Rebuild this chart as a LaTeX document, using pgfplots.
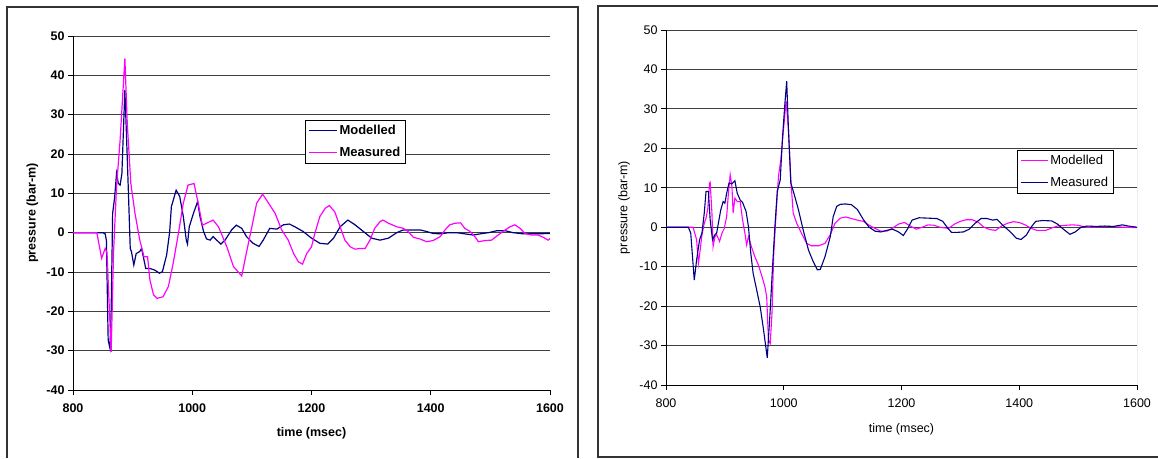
\documentclass[border=0pt]{standalone}
\usepackage{pgfplots}
\pgfplotsset{compat=1.18}
\usepackage{fontspec}
\setmainfont{Liberation Sans}
\definecolor{navy}{RGB}{0,0,128}
\definecolor{mag}{RGB}{255,0,255}
\pgfplotsset{
  common/.style={
    scale only axis, xmin=800, xmax=1600, ymin=-40, ymax=50,
    xtick={800,1000,...,1600}, ytick={-40,-30,...,50},
    axis lines*=left, axis line style={-, black, line width=0.9pt},
    tick align=outside, major tick length=5pt,
    tick style={black, line width=0.8pt},
    ymajorgrids, grid style={black!75, line width=0.8pt},
    /pgf/number format/assume math mode=true,
    /pgf/number format/1000 sep={},
    xticklabel style={yshift=-5pt},
    legend cell align=left,
  },
}
\begin{document}
\begin{tikzpicture}[x=1pt,y=1pt]
\useasboundingbox (0,0) rectangle (1158,458);
\draw[line width=1.6pt, black!80] (7,0) -- (7,451) -- (578,451) -- (578,0);
\draw[line width=1.6pt, black!80] (1158,452) -- (598,452) -- (598,0.8) -- (1158,0.8);

\begin{axis}[common,
  at={(73pt,68pt)}, anchor=south west, width=477pt, height=354pt,
  ticklabel style={font=\bfseries\fontsize{12.5}{12.5}\selectfont},
  xlabel={time (msec)}, ylabel={pressure (bar-m)},
  label style={font=\bfseries\fontsize{12.5}{13}\selectfont},
  xlabel style={at={(axis description cs:0.5,-0.121)}, anchor=center},
  ylabel style={at={(axis description cs:-0.085,0.5)}, anchor=center},
  legend style={at={(0.486,0.763)}, anchor=north west, draw=black, line width=0.8pt,
    fill=white, font=\bfseries\fontsize{13}{15}\selectfont, row sep=7pt,
    inner xsep=3pt, inner ysep=3pt},
  legend image code/.code={\draw[#1, line width=1.3pt] (0pt,0pt) -- (28pt,0pt);},
]
\draw[black!55, line width=0.9pt] (rel axis cs:1,0) -- (rel axis cs:1,1);
\addplot[navy, line width=1.2pt] coordinates {
(800,0) (850,0) (854,-0.3) (856,-2) (859,-27.3) (862,-29.4) (864,-20) (866.5,4.9)
(870,9.2) (873,15.1) (876,12.5) (879,12.1) (882,15) (884,23.5) (887,36.3) (890,23.5)
(893,10) (896,-4) (898,-4.8) (902,-8.2) (906,-5.3) (912,-4.8) (915,-4) (919,-6.9)
(922,-9.1) (929,-9.1) (937,-9.5) (945,-10.3) (950,-9.9) (957,-5.7) (962,0) (965,6.6)
(973,10.8) (979,9.2) (985,4.1) (990,-1.9) (992,-2.9) (995,1.5) (1002,4.9) (1009,7.9)
(1013,4.1) (1019,0.3) (1024,-1.6) (1030,-1.9) (1035,-1) (1041,-1.9) (1048,-2.9)
(1055,-1.9) (1066,0.7) (1074,1.9) (1083,1.1) (1091,-1) (1102,-2.7) (1112,-3.5)
(1119,-1.9) (1130,1.1) (1142,0.9) (1153,2) (1163,2.2) (1172,1.5) (1186,0.3)
(1200,-1.4) (1214,-2.7) (1227,-2.9) (1237,-1.4) (1248,1.5) (1261,3.2) (1273,2)
(1287,0.3) (1301,-1.4) (1315,-1.9) (1329,-1.4) (1343,0) (1354,0.7) (1365,0.7)
(1382,0.7) (1393,0.3) (1404,-0.2) (1416,-0.3) (1430,0) (1443,0) (1457,-0.3)
(1471,-0.6) (1483,-0.3) (1497,0) (1511,0.5) (1525,0.5) (1538,0) (1555,-0.3)
(1578,-0.3) (1600,-0.2)
};
\addlegendentry{Modelled}
\addplot[mag, line width=1.2pt] coordinates {
(800,0) (840,0) (848,-6.5) (854,-4) (857,-5) (864,-30.3) (868,-5) (873,11.7)
(879,23.5) (887,44.3) (891,27.8) (897,12.5) (904,4.9) (912,-1.9) (919,-6.1)
(925,-6.1) (929,-12) (935,-15.8) (941,-16.7) (951,-16.3) (960,-13.7) (968,-7.8)
(977,0) (985,7.5) (993,12.1) (1003,12.5) (1010,7.5) (1017,1.9) (1024,2.4)
(1035,3.2) (1044,1.5) (1058,-3.6) (1069,-8.6) (1083,-11) (1091,-5) (1100,1.5)
(1108,7.5) (1118,9.8) (1128,7.5) (1139,4.9) (1150,0.7) (1161,-1.9) (1170,-5.3)
(1178,-7.4) (1185,-8) (1192,-5.3) (1200,-3.6) (1206,0) (1214,4.1) (1223,6.2)
(1230,6.9) (1239,5.3) (1248,1.5) (1256,-1.9) (1265,-3.6) (1273,-4.2) (1281,-4)
(1290,-4) (1298,-1.9) (1306,1.1) (1315,2.8) (1320,3.2) (1329,2.4) (1343,1.5)
(1354,1.1) (1362,0.3) (1371,-1.2) (1382,-1.6) (1393,-2.3) (1404,-2) (1416,-1)
(1424,0.7) (1432,2) (1441,2.4) (1450,2.5) (1457,1.1) (1466,0.3) (1474,-1)
(1480,-2.3) (1491,-2) (1502,-1.9) (1513,-0.6) (1525,0.7) (1533,1.5) (1541,2)
(1550,1.1) (1558,-0.2) (1569,-0.6) (1580,-0.6) (1589,-1.2) (1597,-1.9) (1600,-1.5)
};
\addlegendentry{Measured}
\end{axis}

\begin{axis}[common,
  at={(666pt,73pt)}, anchor=south west, width=471pt, height=355pt,
  ticklabel style={font=\fontsize{12.5}{12.5}\selectfont},
  xlabel={time (msec)}, ylabel={pressure (bar-m)},
  label style={font=\fontsize{12.5}{13}\selectfont},
  xlabel style={at={(axis description cs:0.5,-0.124)}, anchor=center},
  ylabel style={at={(axis description cs:-0.089,0.5)}, anchor=center},
  legend style={at={(0.745,0.662)}, anchor=north west, draw=black, line width=0.8pt,
    fill=white, font=\fontsize{13}{15}\selectfont, row sep=7pt,
    inner xsep=3pt, inner ysep=3pt},
  legend image code/.code={\draw[#1, line width=1.1pt] (0pt,0pt) -- (27pt,0pt);},
]
\draw[black!55, line width=0.9pt] (rel axis cs:1,0) -- (rel axis cs:1,1);
\addplot[mag, line width=1.1pt] coordinates {
(800,0) (846,0) (852,-3.2) (855,-9.2) (858,-5.8) (861,-2) (865,1) (868,2.3)
(871,4.8) (874,11.2) (875,11.4) (878,3.6) (880,-4.9) (883,-2.4) (886,-1.9)
(891,-3.6) (895,-1.5) (899,-0.3) (903,2.7) (906,8.6) (909,13.3) (912,10.3)
(914,3.6) (917,7.4) (921,6.5) (926,6.5) (930,1.9) (934,-1.5) (937,-4.5) (940,-2.4)
(945,-4.9) (951,-7.5) (957,-9.6) (963,-12.5) (968,-15.1) (971,-17.6) (974,-28.6)
(977,-29.5) (980,-21.9) (983,-6.6) (988,6.1) (991,12.9) (995,17.1) (999,23.9)
(1004,32) (1008,24.7) (1012,12) (1016,3.6) (1022,1) (1030,-1.5) (1039,-4.1)
(1047,-4.7) (1059,-4.7) (1070,-4.1) (1079,-1.9) (1087,1) (1096,2.3)
(1105,2.6) (1115,2.2) (1125,1.8) (1135,1.5) (1145,0.5) (1155,-0.3) (1165,-1)
(1175,-1) (1185,-0.2) (1195,0.8) (1205,1.2) (1215,0.3) (1225,-0.5) (1235,0)
(1245,0.6) (1255,0.5) (1265,0) (1280,-0.3) (1290,0.8) (1300,1.5) (1310,1.9)
(1320,1.9) (1330,1.3) (1340,0) (1350,-0.6) (1360,-0.8) (1370,0.3) (1380,1)
(1390,1.4) (1400,1.2) (1410,0.6) (1420,-0.3) (1430,-0.8) (1445,-0.8) (1455,-0.2)
(1465,0.3) (1480,0.5) (1490,0.6) (1500,0.5) (1510,0.1) (1520,0) (1535,0.1)
(1550,0.2) (1565,0.1) (1580,0) (1600,-0.1)
};
\addlegendentry{Modelled}
\addplot[navy, line width=1.1pt] coordinates {
(800,0) (838,0) (842,-1.5) (848,-13.4) (852,-8.3) (857,-3.2) (861,-1.5) (865,3.6)
(868,9.1) (872,9.1) (875,1.9) (879,-3.2) (883,-1.9) (886,-1.5) (890,1.9) (893,4.4)
(897,6.5) (900,6.1) (903,8.6) (907,11.2) (912,11) (917,11.8) (921,8.6) (926,6.9)
(930,6.3) (936,4) (940,0.2) (944,-6.6) (948,-11.7) (954,-15.9) (960,-20.2)
(965,-25.3) (972,-33.1) (977,-21) (981,-10) (985,0.2) (989,9.1) (994,12) (998,23)
(1002,31.5) (1005,37) (1008,24.7) (1012,11.2) (1018,8.2) (1025,4.4) (1033,-0.7)
(1042,-5.8) (1050,-8.7) (1057,-10.8) (1062,-10.7) (1070,-7.5) (1079,-2.4)
(1084,2.7) (1090,5.3) (1096,5.8) (1105,5.9) (1115,5.7) (1125,4.5) (1135,2)
(1145,0) (1155,-1) (1165,-1.2) (1175,-0.8) (1185,-0.5) (1195,-1.2) (1203,-2.1)
(1210,-0.5) (1218,1.8) (1230,2.4) (1245,2.3) (1260,2.2) (1270,1.5) (1280,-0.5)
(1285,-1.3) (1295,-1.3) (1305,-1.2) (1315,-0.5) (1325,1) (1335,2.2) (1345,2.2)
(1355,1.8) (1362,2) (1372,0.5) (1385,-1.2) (1395,-2.8) (1403,-3.1) (1412,-2)
(1420,0) (1428,1.5) (1440,1.7) (1455,1.6) (1465,0.8) (1475,-0.5) (1486,-1.8)
(1495,-1.2) (1505,0) (1515,0.3) (1530,0.2) (1545,0.3) (1560,0.2) (1575,0.6)
(1585,0.3) (1600,0)
};
\addlegendentry{Measured}
\end{axis}
\end{tikzpicture}
\end{document}
